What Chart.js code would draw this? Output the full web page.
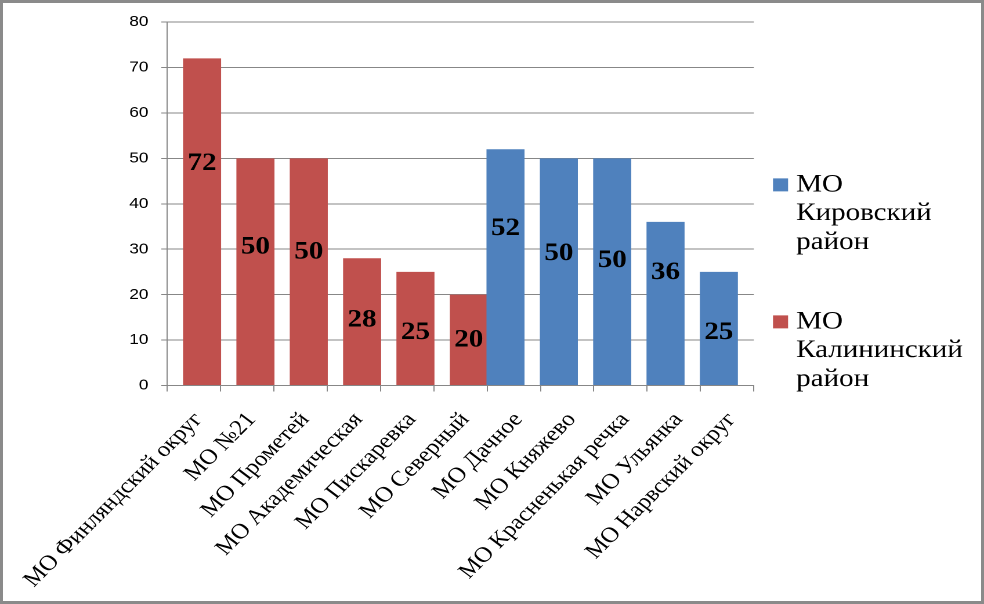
<!DOCTYPE html>
<html>
<head>
<meta charset="utf-8">
<script src="https://cdn.jsdelivr.net/npm/chart.js@4"></script>
<style>
  html, body { margin: 0; padding: 0; background: #fff; }
  #page { position: relative; width: 984px; height: 604px; overflow: hidden; }
  #box { position: absolute; left: 0; top: 0; width: 848px; height: 604px;
         transform: scaleX(1.16038); transform-origin: 0 0; }
  #frame { position: absolute; left: 0; top: 0; width: 984px; height: 604px;
           box-sizing: border-box; border: 3px solid #8a8a8a; pointer-events: none; }
</style>
</head>
<body>
<div id="page">
  <div id="box"><canvas id="chart"></canvas></div>
  <div id="frame"></div>
</div>
<script>
const districts = [
  'МО Финляндский округ', 'МО №21', 'МО Прометей', 'МО Академическая',
  'МО Пискаревка', 'МО Северный', 'МО Дачное', 'МО Княжево',
  'МО Красненькая речка', 'МО Ульянка', 'МО Нарвский округ'
]
const kirovValues   = [null, null, null, null, null, null, 52, 50, 50, 36, 25]
const kalininValues = [72, 50, 50, 28, 25, 20, null, null, null, null, null]
// where each value label sits, in axis units
const labelAt = [48.8, 30.5, 29.4, 14.4, 11.6, 10.0, 34.5, 29.0, 27.5, 24.9, 11.7]

const gridColor = '#878787'
const serif = "'Liberation Serif', 'Times New Roman', serif"

const valueLabels = {
  id: 'valueLabels',
  afterDatasetsDraw(chart) {
    let ctx = chart.ctx
    let yScale = chart.scales.y
    ctx.save()
    ctx.font = 'bold 25px ' + serif
    ctx.fillStyle = '#000'
    ctx.textAlign = 'center'
    ctx.textBaseline = 'middle'
    chart.data.datasets.forEach((ds, di) => {
      let meta = chart.getDatasetMeta(di)
      meta.data.forEach((bar, i) => {
        if (ds.data[i] == null) return
        ctx.fillText(String(ds.data[i]), bar.x, yScale.getPixelForValue(labelAt[i]))
      })
    })
    ctx.restore()
  }
}

let ctx = document.getElementById('chart').getContext('2d')
let chart = new Chart(ctx, {
  type: 'bar',
  data: {
    labels: districts,
    datasets: [
      {
        label: 'МО Кировский район',
        data: kirovValues,
        backgroundColor: '#4F81BD'
      },
      {
        label: 'МО Калининский район',
        data: kalininValues,
        backgroundColor: '#C0504D'
      }
    ]
  },
  options: {
    responsive: true,
    maintainAspectRatio: false,
    devicePixelRatio: 2,
    animation: false,
    categoryPercentage: 0.623,
    barPercentage: 2.29,
    layout: {
      padding: { left: 10, top: 22, right: 8.2, bottom: 8 }
    },
    scales: {
      x: {
        grid: {
          offset: true,
          drawOnChartArea: false,
          tickLength: 6,
          color: gridColor
        },
        border: { color: gridColor },
        ticks: {
          autoSkip: false,
          minRotation: 49,
          maxRotation: 49,
          padding: 16,
          labelOffset: 4,
          color: '#000',
          font: { family: serif, size: 21.5 }
        },
        afterFit(scale) {
          scale.height = 210.5
          scale.paddingLeft = 0
          scale.paddingRight = 0
        }
      },
      y: {
        min: 0,
        max: 80,
        grid: { color: gridColor, tickLength: 5 },
        border: { color: gridColor },
        ticks: {
          stepSize: 10,
          padding: 11,
          color: '#000',
          font: { family: "'Liberation Sans', Arial, sans-serif", size: 15 }
        },
        afterFit(scale) {
          scale.width = 134
        }
      }
    },
    plugins: {
      tooltip: { enabled: false },
      legend: {
        position: 'right',
        align: 'start',
        // empty title only pushes the items down to where they sit in the picture
        title: {
          display: true,
          text: '',
          font: { size: 12, lineHeight: 1.2 },
          padding: { top: 114, bottom: 0 }
        },
        labels: {
          boxWidth: 2,
          boxHeight: 2,
          padding: 22,
          color: '#000',
          font: { family: serif, size: 25, lineHeight: 1.15 },
          generateLabels(chart) {
            let items = Chart.defaults.plugins.legend.labels.generateLabels(chart)
            items.forEach(item => {
              item.text = item.text.split(' ').concat([''])
              item.strokeStyle = item.fillStyle
              item.lineWidth = 11
            })
            return items
          }
        }
      }
    }
  },
  plugins: [valueLabels]
})
</script>
</body>
</html>
